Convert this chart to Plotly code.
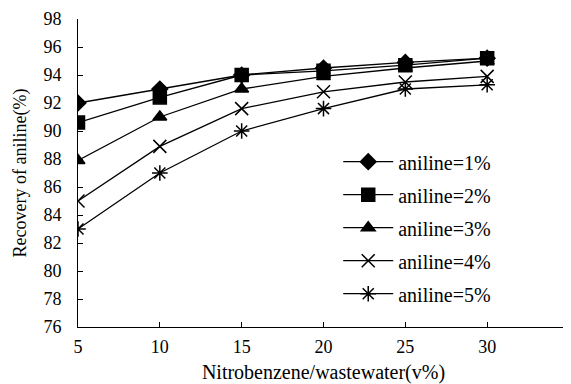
import plotly.graph_objects as go

x_vals = [5, 10, 15, 20, 25, 30]
series_names = ["aniline=1%", "aniline=2%", "aniline=3%", "aniline=4%", "aniline=5%"]
aniline_1 = [92.0, 93.0, 94.0, 94.5, 94.9, 95.2]
aniline_2 = [90.6, 92.4, 94.0, 94.3, 94.7, 95.2]
aniline_3 = [87.9, 91.0, 93.0, 93.9, 94.5, 95.0]
aniline_4 = [85.0, 88.9, 91.6, 92.8, 93.5, 93.9]
aniline_5 = [83.0, 87.0, 90.0, 91.6, 93.0, 93.3]
x_tick_vals = [5, 10, 15, 20, 25, 30, 35]
x_tick_text = ["5", "10", "15", "20", "25", "30", ""]
y_tick_vals = [76, 78, 80, 82, 84, 86, 88, 90, 92, 94, 96, 98]

all_series = [aniline_1, aniline_2, aniline_3, aniline_4, aniline_5]
symbols = ["diamond", "square", "triangle-up", "x-thin-open", "asterisk-open"]
sizes = [12, 13, 12, 13, 13]

FONT = "Liberation Serif"
fig = go.Figure()
for i, (name, ys) in enumerate(zip(series_names, all_series)):
    fig.add_trace(go.Scatter(
        x=x_vals, y=ys, name=name, mode="lines+markers",
        legendgroup=f"g{i}",
        line=dict(color="black", width=1.3),
        marker=dict(symbol=symbols[i], size=sizes[i], color="black",
                    line=dict(color="black", width=1.5)),
    ))

# page body has an 8px margin, so the figure is sized to fit the window
fig.update_layout(
    width=563, height=376,
    margin=dict(l=70, r=2, t=11, b=57),
    paper_bgcolor="white", plot_bgcolor="white",
    font=dict(family=FONT, size=18, color="black"),
    showlegend=True,
    legend=dict(x=0.53, y=0.6, xanchor="left", yanchor="top",
                bgcolor="rgba(0,0,0,0)", tracegroupgap=4,
                font=dict(family=FONT, size=20), itemwidth=50),
    xaxis=dict(range=[5, 35], tickvals=x_tick_vals, ticktext=x_tick_text,
               ticks="inside", ticklen=5, tickcolor="black",
               showline=True, linecolor="black", linewidth=1,
               showgrid=False, zeroline=False, automargin=False,
               tickfont=dict(size=18), ticklabelstandoff=3,
               title=dict(text="Nitrobenzene/wastewater(v%)", standoff=22,
                          font=dict(size=20))),
    yaxis=dict(range=[76, 98], tickvals=y_tick_vals,
               ticks="inside", ticklen=5, tickcolor="black",
               showline=True, linecolor="black", linewidth=1,
               showgrid=False, zeroline=False, automargin=False,
               tickfont=dict(size=18), ticklabelstandoff=12,
               title=dict(text="Recovery of aniline(%)", standoff=12,
                          font=dict(size=18))),
)
fig.write_html("out.html")
